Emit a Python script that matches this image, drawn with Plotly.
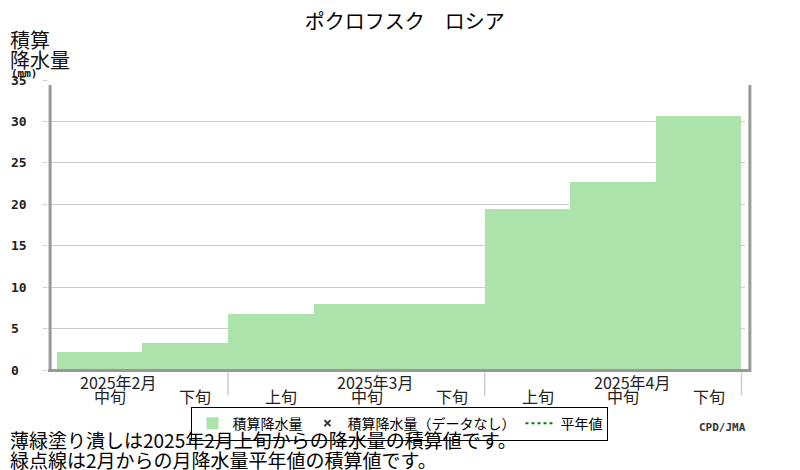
import plotly.graph_objects as go

# dekads shown on the chart (Feb 中旬 .. Apr 下旬)
months = ['2025年2月', '2025年3月', '2025年4月']
dekad_names = ['上旬', '中旬', '下旬']
period_month = [0, 0, 1, 1, 1, 2, 2, 2]
period_dekad = [1, 2, 0, 1, 2, 0, 1, 2]
accum_precip = [2.2, 3.3, 6.8, 8.0, 8.0, 19.4, 22.7, 30.6]
y_ticks = [0, 5, 10, 15, 20, 25, 30, 35]

x_pos = [m * 3 + d for m, d in zip(period_month, period_dekad)]

jp = "Noto Sans CJK JP"
mono = "DejaVu Sans Mono"

fig = go.Figure()

fig.add_trace(go.Bar(
    x=x_pos, y=accum_precip, width=1,
    marker=dict(color='#ABE3AA', line=dict(width=0)),
    name='積算降水量'))

fig.add_trace(go.Scatter(
    x=[None], y=[None], mode='markers',
    marker=dict(symbol='x-thin', size=6, color='#333333', line=dict(width=2, color='#333333')),
    name='積算降水量（データなし）'))

fig.add_trace(go.Scatter(
    x=[None], y=[None], mode='lines',
    line=dict(color='#008000', width=2, dash='dot'),
    name='平年値'))

annotations = []

# y tick labels, left aligned
for v in y_ticks:
    annotations.append(dict(
        x=-0.056, xref='paper', xanchor='left', y=v, yref='y', yanchor='middle',
        text=f"<b>{v}</b>", showarrow=False,
        font=dict(family=mono, size=13, color='#222222')))

# dekad labels and month labels
for m, d in zip(period_month, period_dekad):
    annotations.append(dict(
        x=m * 3 + d + 0.12, xref='x', y=-0.091, yref='paper', yanchor='middle',
        text=dekad_names[d], showarrow=False,
        font=dict(family=jp, size=16, color='#222222')))
for i, mname in enumerate(months):
    annotations.append(dict(
        x=i * 3 + 1 + 0.22, xref='x', y=-0.043, yref='paper', yanchor='middle',
        text=mname, showarrow=False,
        font=dict(family=jp, size=16, color='#222222')))

# axis title
annotations += [
    dict(x=-0.057, xref='paper', xanchor='left', y=1.138, yref='paper', yanchor='middle',
         text='積算', showarrow=False, font=dict(family=jp, size=20, color='#111111')),
    dict(x=-0.057, xref='paper', xanchor='left', y=1.069, yref='paper', yanchor='middle',
         text='降水量', showarrow=False, font=dict(family=jp, size=20, color='#111111')),
    dict(x=-0.056, xref='paper', xanchor='left', y=1.024, yref='paper', yanchor='middle',
         text='<b>(mm)</b>', showarrow=False, font=dict(family=mono, size=11, color='#111111')),
]

# notes
annotations += [
    dict(x=-0.057, xref='paper', xanchor='left', y=-0.241, yref='paper', yanchor='middle',
         text='薄緑塗り潰しは2025年2月上旬からの降水量の積算値です。', showarrow=False,
         font=dict(family=jp, size=19, color='#000000')),
    dict(x=-0.057, xref='paper', xanchor='left', y=-0.307, yref='paper', yanchor='middle',
         text='緑点線は2月からの月降水量平年値の積算値です。', showarrow=False,
         font=dict(family=jp, size=19, color='#000000')),
    dict(x=1.004, xref='paper', xanchor='right', y=-0.197, yref='paper', yanchor='middle',
         text='<b>CPD/JMA</b>', showarrow=False,
         font=dict(family=mono, size=11, color='#333333')),
]

shapes = []
# month separators below the axis
for i in range(len(months)):
    shapes.append(dict(type='line', xref='x', yref='paper',
                       x0=i * 3 + 2.5, x1=i * 3 + 2.5, y0=-0.008, y1=-0.088,
                       line=dict(color='#cccccc', width=1.5)))
# thick gray frame
frame = dict(color='#999999', width=3)
shapes += [
    dict(type='line', xref='paper', yref='paper', x0=0.003, x1=0.003, y0=0.983, y1=-0.007, line=frame),
    dict(type='line', xref='paper', yref='paper', x0=0.0, x1=1.007, y0=-0.002, y1=-0.002, line=frame),
    dict(type='line', xref='paper', yref='paper', x0=1.007, x1=1.007, y0=0.983, y1=-0.007, line=frame),
]

# page body has an 8px margin, so the figure is 8px smaller and margins shifted
fig.update_layout(
    width=792, height=462,
    margin=dict(l=40, r=55, t=72, b=100),
    paper_bgcolor='white', plot_bgcolor='white',
    bargap=0,
    title=dict(text='ポクロフスク　ロシア', x=0.501, xref='container', xanchor='center',
               y=0.970, yref='container', yanchor='middle',
               font=dict(family=jp, size=20, color='#000000')),
    xaxis=dict(range=[0.398, 8.541], showgrid=False, zeroline=False,
               showticklabels=False, ticks=''),
    yaxis=dict(range=[0, 35], dtick=5, showgrid=True, gridcolor='#cccccc', gridwidth=1,
               zeroline=False, showticklabels=False, ticks='outside', ticklen=4,
               tickcolor='#cccccc'),
    legend=dict(orientation='h', x=0.505, xanchor='center', y=-0.126, yanchor='top',
                bordercolor='#000000', borderwidth=1,
                font=dict(family=jp, size=14, color='#000000'),
                itemwidth=30, tracegroupgap=0),
    annotations=annotations,
    shapes=shapes,
)

fig.write_html("out.html")
